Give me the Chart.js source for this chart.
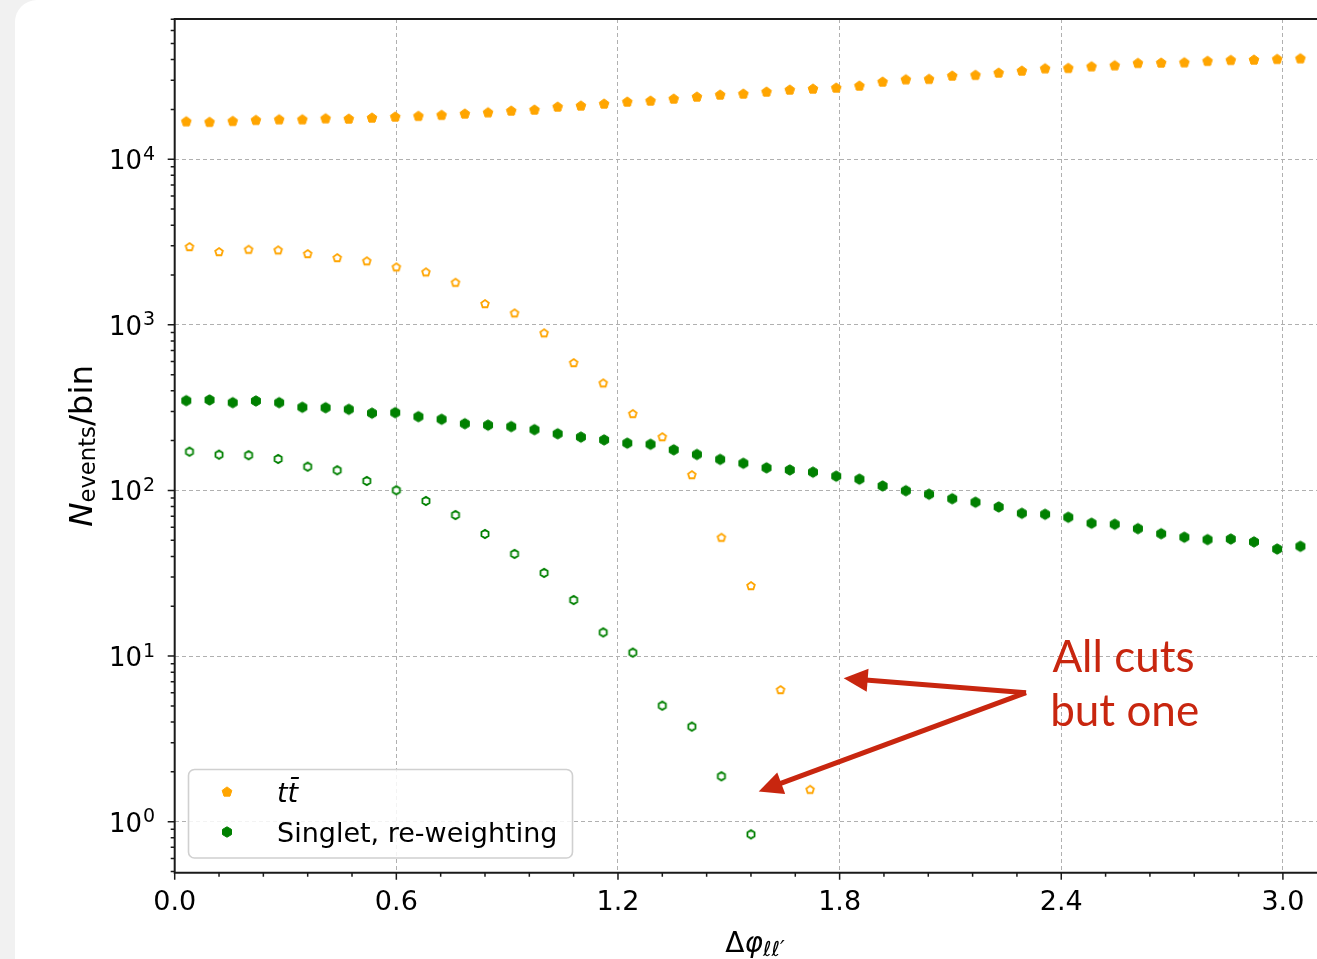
<!DOCTYPE html>
<html>
<head>
<meta charset="utf-8">
<script src="https://cdn.jsdelivr.net/npm/chart.js@4.4.1/dist/chart.umd.min.js"></script>
<style>
  html, body { margin: 0; padding: 0; background: #f1f1f1; overflow: hidden; }
  #card { position: absolute; left: 15px; top: 0; width: 1302px; height: 959px; background: #fff; border-top-left-radius: 22px; }
  #wrap { position: absolute; left: 0; top: 0; width: 1317px; height: 959px; }
</style>
</head>
<body>
<div id="card"></div>
<div id="wrap"><canvas id="chart" width="1317" height="959"></canvas></div>
<script>
// Fine binning (50 bins over 0..pi), filled markers
const fineBinWidth = Math.PI / 50;
const ttbarPreselection = [16870, 16730, 16960, 17200, 17340, 17340, 17590, 17510, 17760, 18010,
    18190, 18440, 18780, 19120, 19570, 19850, 20690, 20990, 21580, 22180,
    22500, 23130, 23780, 24450, 24800, 25490, 26210, 26580, 26950, 27710,
    29300, 30250, 30420, 31850, 32160, 33200, 34140, 35250, 35440, 36240,
    36750, 37990, 38150, 38310, 39070, 39610, 39780, 40170, 40500];
const singletPreselection = [348.5, 352, 339, 347, 339, 318, 316, 309, 293, 295,
    279, 269, 253, 248, 243, 233, 220, 210, 202, 193,
    190, 176, 165, 154, 146, 137, 133, 129, 122, 117,
    106.5, 99.7, 94.9, 89.2, 84.9, 79.5, 72.8, 71.8, 68.9, 63.4,
    62.5, 58.8, 54.8, 52.2, 50.5, 50.9, 48.9, 44.3, 46.0];

// Coarse binning (width 0.08), open markers: all cuts but one
const coarseBinWidth = 0.08;
const ttbarAllButOne = [2954, 2756, 2846, 2822, 2680, 2535, 2422, 2227, 2078, 1798,
    1337, 1175, 890, 589, 444, 290, 210, 124, 51.9, 26.5, 6.24, 1.56];
const singletAllButOne = [171.5, 164.5, 163.2, 155, 139.2, 132.4, 114.1, 100.3, 86.4, 71.1,
    54.6, 41.4, 31.8, 21.8, 13.9, 10.5, 5.02, 3.75, 1.88, 0.839];

const xTickValues = [0, 0.6, 1.2, 1.8, 2.4, 3.0];
const xTickLabels = ['0.0', '0.6', '1.2', '1.8', '2.4', '3.0'];
const yTickExponents = [0, 1, 2, 3, 4];
const legendLabels = ['t\u0074\u0304', 'Singlet, re-weighting'];

const X_MAX = 3.0923;
const Y_MIN = 0.492, Y_MAX = 70300;
const ORANGE = '#ffa500', GREEN = '#008000', RED = '#c8260f';

function toPoints(width, values) {
    return values.map((v, i) => ({ x: (i + 0.5) * width, y: v }));
}

// Marker images (pentagon / hexagon, point up like matplotlib 'p' and 'h')
function polygonMarker(sides, radius, fill, stroke, lineWidth) {
    const size = Math.ceil(2 * radius + lineWidth + 4);
    const c = document.createElement('canvas');
    c.width = size; c.height = size;
    const g = c.getContext('2d');
    g.translate(size / 2, size / 2);
    g.beginPath();
    for (let k = 0; k < sides; k++) {
        const a = -Math.PI / 2 + k * 2 * Math.PI / sides;
        if (k === 0) g.moveTo(radius * Math.cos(a), radius * Math.sin(a));
        else g.lineTo(radius * Math.cos(a), radius * Math.sin(a));
    }
    g.closePath();
    g.fillStyle = fill;
    g.fill();
    g.strokeStyle = stroke;
    g.lineWidth = lineWidth;
    g.stroke();
    return c;
}

const ttFilled = polygonMarker(5, 5.1, ORANGE, ORANGE, 1);
const ttOpen = polygonMarker(5, 4.0, '#ffffff', ORANGE, 1.8);
const sgFilled = polygonMarker(6, 5.2, GREEN, GREEN, 1);
const sgOpen = polygonMarker(6, 4.1, '#ffffff', GREEN, 1.8);

function isDecade(v) {
    const l = Math.log10(v);
    return Math.abs(l - Math.round(l)) < 1e-9;
}

function drawArrow(ctx, x0, y0, x1, y1) {
    const ang = Math.atan2(y1 - y0, x1 - x0);
    const headLen = 24, headHalf = 11.5;
    const bx = x1 - headLen * Math.cos(ang), by = y1 - headLen * Math.sin(ang);
    ctx.beginPath();
    ctx.moveTo(x0, y0);
    ctx.lineTo(bx + 2 * Math.cos(ang), by + 2 * Math.sin(ang));
    ctx.stroke();
    ctx.beginPath();
    ctx.moveTo(x1, y1);
    ctx.lineTo(bx + headHalf * Math.sin(ang), by - headHalf * Math.cos(ang));
    ctx.lineTo(bx - headHalf * Math.sin(ang), by + headHalf * Math.cos(ang));
    ctx.closePath();
    ctx.fill();
}

const decor = {
    id: 'decor',
    afterDraw(chart) {
        const { ctx, chartArea: a, scales: { x, y } } = chart;
        ctx.save();

        // spines
        ctx.strokeStyle = '#1a1a1a';
        ctx.lineWidth = 2;
        ctx.beginPath();
        ctx.moveTo(a.right, a.top);
        ctx.lineTo(a.left, a.top);
        ctx.lineTo(a.left, a.bottom);
        ctx.lineTo(a.right, a.bottom);
        ctx.stroke();

        // x ticks
        ctx.lineWidth = 1.5;
        ctx.beginPath();
        for (let k = 0; k * 0.12 <= X_MAX; k++) {
            const px = x.getPixelForValue(k * 0.12);
            const len = (k % 5 === 0) ? 7 : 4;
            ctx.moveTo(px, a.bottom);
            ctx.lineTo(px, a.bottom + len);
        }
        ctx.stroke();

        // y ticks (log minors)
        ctx.beginPath();
        for (let e = -1; e <= 4; e++) {
            for (let m = 1; m <= 9; m++) {
                const v = m * Math.pow(10, e);
                if (v < Y_MIN || v > Y_MAX) continue;
                const py = y.getPixelForValue(v);
                const len = m === 1 ? 7 : 4;
                ctx.moveTo(a.left, py);
                ctx.lineTo(a.left - len, py);
            }
        }
        ctx.stroke();

        // tick labels
        ctx.fillStyle = '#000';
        ctx.font = '27px "DejaVu Sans"';
        ctx.textAlign = 'center';
        ctx.textBaseline = 'alphabetic';
        xTickValues.forEach((v, i) => {
            ctx.fillText(xTickLabels[i], x.getPixelForValue(v), a.bottom + 37.5);
        });
        yTickExponents.forEach(e => {
            const py = y.getPixelForValue(Math.pow(10, e));
            ctx.font = '26px "DejaVu Sans"';
            ctx.textAlign = 'right';
            ctx.fillText('10', 142, py + 10);
            ctx.font = '19px "DejaVu Sans"';
            ctx.textAlign = 'left';
            ctx.fillText(String(e), 143, py + 0.5);
        });

        // x axis label: Δφ_{ℓℓ'}
        {
            const parts = [
                { t: '\u0394', f: '28px "DejaVu Sans"', dy: 0 },
                { t: '\u03c6', f: 'oblique 28px "DejaVu Sans"', dy: 0 },
                { t: '\u2113\u2113\u2032', f: 'oblique 20.5px "DejaVu Sans"', dy: 4 }
            ];
            let total = 0;
            parts.forEach(p => { ctx.font = p.f; p.w = ctx.measureText(p.t).width; total += p.w; });
            let cx = x.getPixelForValue(Math.PI / 2) - total / 2;
            ctx.textAlign = 'left';
            parts.forEach(p => { ctx.font = p.f; ctx.fillText(p.t, cx, 951.5 + p.dy); cx += p.w; });
        }

        // y axis label: N_events/bin
        {
            const parts = [
                { t: 'N', f: 'oblique 32.5px "DejaVu Sans"', dy: 0 },
                { t: 'events', f: '22.7px "DejaVu Sans"', dy: 3 },
                { t: '/bin', f: '32.5px "DejaVu Sans"', dy: 0 }
            ];
            let total = 0;
            parts.forEach(p => { ctx.font = p.f; p.w = ctx.measureText(p.t).width; total += p.w; });
            ctx.save();
            ctx.translate(92, (a.top + a.bottom) / 2);
            ctx.rotate(-Math.PI / 2);
            let cx = -total / 2;
            parts.forEach(p => { ctx.font = p.f; ctx.fillText(p.t, cx, p.dy); cx += p.w; });
            ctx.restore();
        }

        // legend
        {
            const lx = 188.5, ly = 769.5, lw = 384, lh = 88.5, r = 6;
            ctx.beginPath();
            ctx.roundRect(lx, ly, lw, lh, r);
            ctx.fillStyle = 'rgba(255,255,255,0.85)';
            ctx.fill();
            ctx.strokeStyle = '#d0d0d0';
            ctx.lineWidth = 1.6;
            ctx.stroke();
            ctx.drawImage(ttFilled, 227 - ttFilled.width / 2, 792 - ttFilled.height / 2);
            ctx.drawImage(sgFilled, 227 - sgFilled.width / 2, 832 - sgFilled.height / 2);
            ctx.fillStyle = '#000';
            ctx.textAlign = 'left';
            ctx.font = 'oblique 27px "DejaVu Sans"';
            ctx.fillText(legendLabels[0], 277, 801.5);
            ctx.font = '27px "DejaVu Sans"';
            ctx.fillText(legendLabels[1], 277, 841.5);
        }

        // annotation: "All cuts but one" with two arrows
        {
            const tx = x.getPixelForValue(2.3046), ty = y.getPixelForValue(6.01);
            ctx.strokeStyle = RED;
            ctx.fillStyle = RED;
            ctx.lineWidth = 5;
            ctx.lineCap = 'butt';
            drawArrow(ctx, tx, ty, x.getPixelForValue(1.811), y.getPixelForValue(7.34));
            drawArrow(ctx, tx, ty, x.getPixelForValue(1.581), y.getPixelForValue(1.52));
            ctx.font = '44px Lato';
            ctx.textAlign = 'left';
            ctx.fillText('All cuts', x.getPixelForValue(2.376), y.getPixelForValue(7.98));
            ctx.fillText('but one', x.getPixelForValue(2.370), y.getPixelForValue(3.80));
        }

        ctx.restore();
    }
};

new Chart(document.getElementById('chart'), {
    type: 'scatter',
    data: {
        datasets: [
            { label: legendLabels[0], data: toPoints(fineBinWidth, ttbarPreselection), pointStyle: ttFilled, pointRadius: 5 },
            { label: 'tt all but one', data: toPoints(coarseBinWidth, ttbarAllButOne), pointStyle: ttOpen, pointRadius: 4 },
            { label: legendLabels[1], data: toPoints(fineBinWidth, singletPreselection), pointStyle: sgFilled, pointRadius: 5 },
            { label: 'singlet all but one', data: toPoints(coarseBinWidth, singletAllButOne), pointStyle: sgOpen, pointRadius: 4 }
        ]
    },
    options: {
        responsive: false,
        animation: false,
        devicePixelRatio: 1,
        layout: { autoPadding: false, padding: { top: 19, left: 0, right: 0, bottom: 0 } },
        plugins: { legend: { display: false }, tooltip: { enabled: false } },
        scales: {
            x: {
                type: 'linear',
                min: 0,
                max: X_MAX,
                afterBuildTicks: s => { s.ticks = xTickValues.map(v => ({ value: v })); },
                afterFit: s => { s.height = 86.3; },
                ticks: { display: false },
                grid: { color: '#b0b0b0', lineWidth: 1, drawTicks: false },
                border: { display: false, dash: [4, 3] }
            },
            y: {
                type: 'logarithmic',
                min: Y_MIN,
                max: Y_MAX,
                afterBuildTicks: s => {
                    s.ticks = yTickExponents.map(e => ({ value: Math.pow(10, e), major: true }));
                },
                afterFit: s => { s.width = 174.7; },
                ticks: { display: false },
                grid: {
                    color: c => (c.tick && isDecade(c.tick.value)) ? '#b0b0b0' : 'rgba(0,0,0,0)',
                    lineWidth: 1,
                    drawTicks: false
                },
                border: { display: false, dash: [4, 3] }
            }
        }
    },
    plugins: [decor]
});
</script>
</body>
</html>
